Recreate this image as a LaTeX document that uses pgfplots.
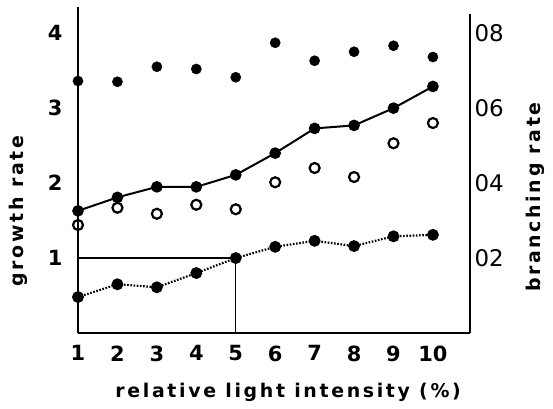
\documentclass[border=0pt]{standalone}
\usepackage{fontspec}
\setmainfont{DejaVu Sans}
\newfontfamily\lblfont[LetterSpace=14]{DejaVu Sans}
\usepackage{pgfplots}
\pgfplotsset{compat=1.18}
\begin{document}
\begin{tikzpicture}[x=1bp,y=1bp]
\useasboundingbox (0,0) ++(-78,-75) rectangle ++(553,408);
\begin{axis}[
  at={(0,0)}, anchor=south west,
  scale only axis, width=392bp, height=326bp,
  xmin=1, xmax=10.94, ymin=0, ymax=4.35,
  axis lines=left, axis line style={-, line width=2bp},
  major tick length=0pt,
  xtick={1,...,10}, ytick={1,2,3,4},
  /pgf/number format/assume math mode=true,
  tick label style={font=\fontsize{21}{21}\selectfont\bfseries},
  xticklabel style={yshift=-9bp},
  yticklabel style={xshift=-12bp},
  label style={font=\lblfont\fontsize{19}{19}\selectfont\bfseries},
  xlabel={relative light intensity (\%)},
  xlabel style={at={(axis description cs:0.536,-0.181)}, anchor=center},
  ylabel={growth rate},
  ylabel style={at={(axis description cs:-0.151,0.374)}, anchor=center},
  clip=false,
]
\addplot[black, line width=1.2bp] coordinates {(1,1) (5,1) (5,0)};
\addplot[black, line width=2bp, mark=*, mark size=4.8bp, mark options={solid}] coordinates {
(1,1.63) (2,1.81) (3,1.95) (4,1.95) (5,2.11) (6,2.40) (7,2.73) (8,2.77) (9,3.00) (10,3.29)};
\addplot[black, line width=2.2bp, dash pattern=on 1.6bp off 1.6bp, mark=*, mark size=4.8bp, mark options={solid}] coordinates {
(1,0.48) (2,0.65) (3,0.61) (4,0.80) (5,1.00) (6,1.15) (7,1.23) (8,1.16) (9,1.29) (10,1.31)};
\end{axis}
\begin{axis}[
  at={(0,0)}, anchor=south west,
  scale only axis, width=392bp, height=319bp,
  xmin=1, xmax=10.94, ymin=0, ymax=0.08507,
  scaled y ticks=false,
  axis x line=none, axis y line=right, axis line style={-, line width=2bp},
  major tick length=0pt,
  ytick={0.02,0.04,0.06,0.08}, yticklabels={02,04,06,08},
  tick label style={font=\fontsize{23}{23}\selectfont},
  yticklabel style={xshift=1bp},
  label style={font=\lblfont\fontsize{19}{19}\selectfont\bfseries},
  ylabel={branching rate},
  ylabel style={at={(axis description cs:1.166,0.426)}, anchor=center},
  clip=false,
]
\addplot[black, only marks, mark=*, mark size=5.1bp] coordinates {
(1,0.0672) (2,0.0670) (3,0.0710) (4,0.0704) (5,0.0682) (6,0.0774) (7,0.0726) (8,0.0750) (9,0.0766) (10,0.0736)};
\addplot[black, only marks, mark=o, mark size=5bp, line width=2.2bp] coordinates {
(1,0.0288) (2,0.0334) (3,0.0318) (4,0.0342) (5,0.0330) (6,0.0402) (7,0.0440) (8,0.0416) (9,0.0506) (10,0.0560)};
\end{axis}
\end{tikzpicture}
\end{document}
